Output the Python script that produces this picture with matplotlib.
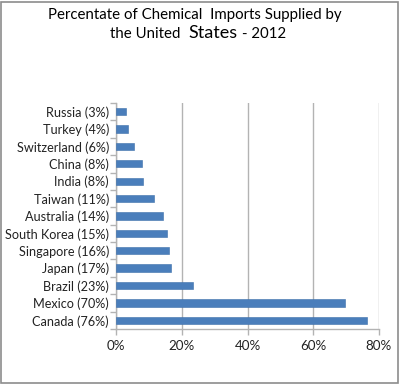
import matplotlib
matplotlib.use("Agg")
import matplotlib.pyplot as plt
from matplotlib.patches import Rectangle
from matplotlib.ticker import FuncFormatter

countries = ["Canada (76%)", "Mexico (70%)", "Brazil (23%)", "Japan (17%)",
             "Singapore (16%)", "South Korea (15%)", "Australia (14%)",
             "Taiwan (11%)", "India (8%)", "China (8%)", "Switzerland (6%)",
             "Turkey (4%)", "Russia (3%)"]
shares = [76.3, 69.8, 23.3, 16.6, 16.0, 15.4, 14.2, 11.5, 8.2, 7.8, 5.6, 3.7, 3.1]
x_ticks = [0, 20, 40, 60, 80]

FONT = "Lato"
GRID = "#b3b3b3"

fig = plt.figure(figsize=(4.0, 3.85), dpi=100)
fig.patch.set_facecolor("white")
ax = fig.add_axes([0.29, 0.1455, 0.6575, 0.587])

pos = list(range(len(countries)))
ax.barh(pos, shares, height=0.42, color="#4a7ebb", edgecolor="#3d6fab",
        linewidth=0.4, zorder=3)

ax.set_xlim(0, 80)
ax.set_ylim(-0.5, len(countries) - 0.5)
ax.set_xticks(x_ticks)
ax.xaxis.set_major_formatter(FuncFormatter(lambda v, _: f"{v:.0f}%"))
ax.grid(axis="x", color=GRID, linewidth=1.0, zorder=0)

ax.set_yticks(pos)
ax.set_yticklabels(countries)
ax.set_yticks([p + 0.5 for p in range(-1, len(countries))], minor=True)
ax.tick_params(axis="y", which="major", length=0, pad=5)
ax.tick_params(axis="y", which="minor", length=4, color=GRID, width=1.0)
ax.tick_params(axis="x", length=4, color=GRID, width=1.0, pad=4)

for lab in ax.get_yticklabels():
    lab.set_fontfamily(FONT)
    lab.set_fontsize(9.1)
    lab.set_color("#222222")
for lab in ax.get_xticklabels():
    lab.set_fontfamily(FONT)
    lab.set_fontsize(9.6)
    lab.set_color("#222222")

for side in ["top", "right"]:
    ax.spines[side].set_visible(False)
for side in ["left", "bottom"]:
    ax.spines[side].set_color(GRID)
    ax.spines[side].set_linewidth(1.0)

# title, second line has a larger "States"
fig.text(0.4875, 0.962, "Percentate of Chemical  Imports Supplied by",
         ha="center", va="center", fontsize=10.8, family=FONT)
fig.text(0.45, 0.912, "the United", ha="right", va="center",
         fontsize=10.8, family=FONT)
fig.text(0.47, 0.914, "States", ha="left", va="center",
         fontsize=13, family=FONT)
fig.text(0.605, 0.912, "- 2012", ha="left", va="center",
         fontsize=10.8, family=FONT)

fig.add_artist(Rectangle((0.003, 0.004), 0.992, 0.992, transform=fig.transFigure,
                         fill=False, edgecolor="#8c8c8c", linewidth=1.2))

fig.savefig("out.png", dpi=100, facecolor="white")
